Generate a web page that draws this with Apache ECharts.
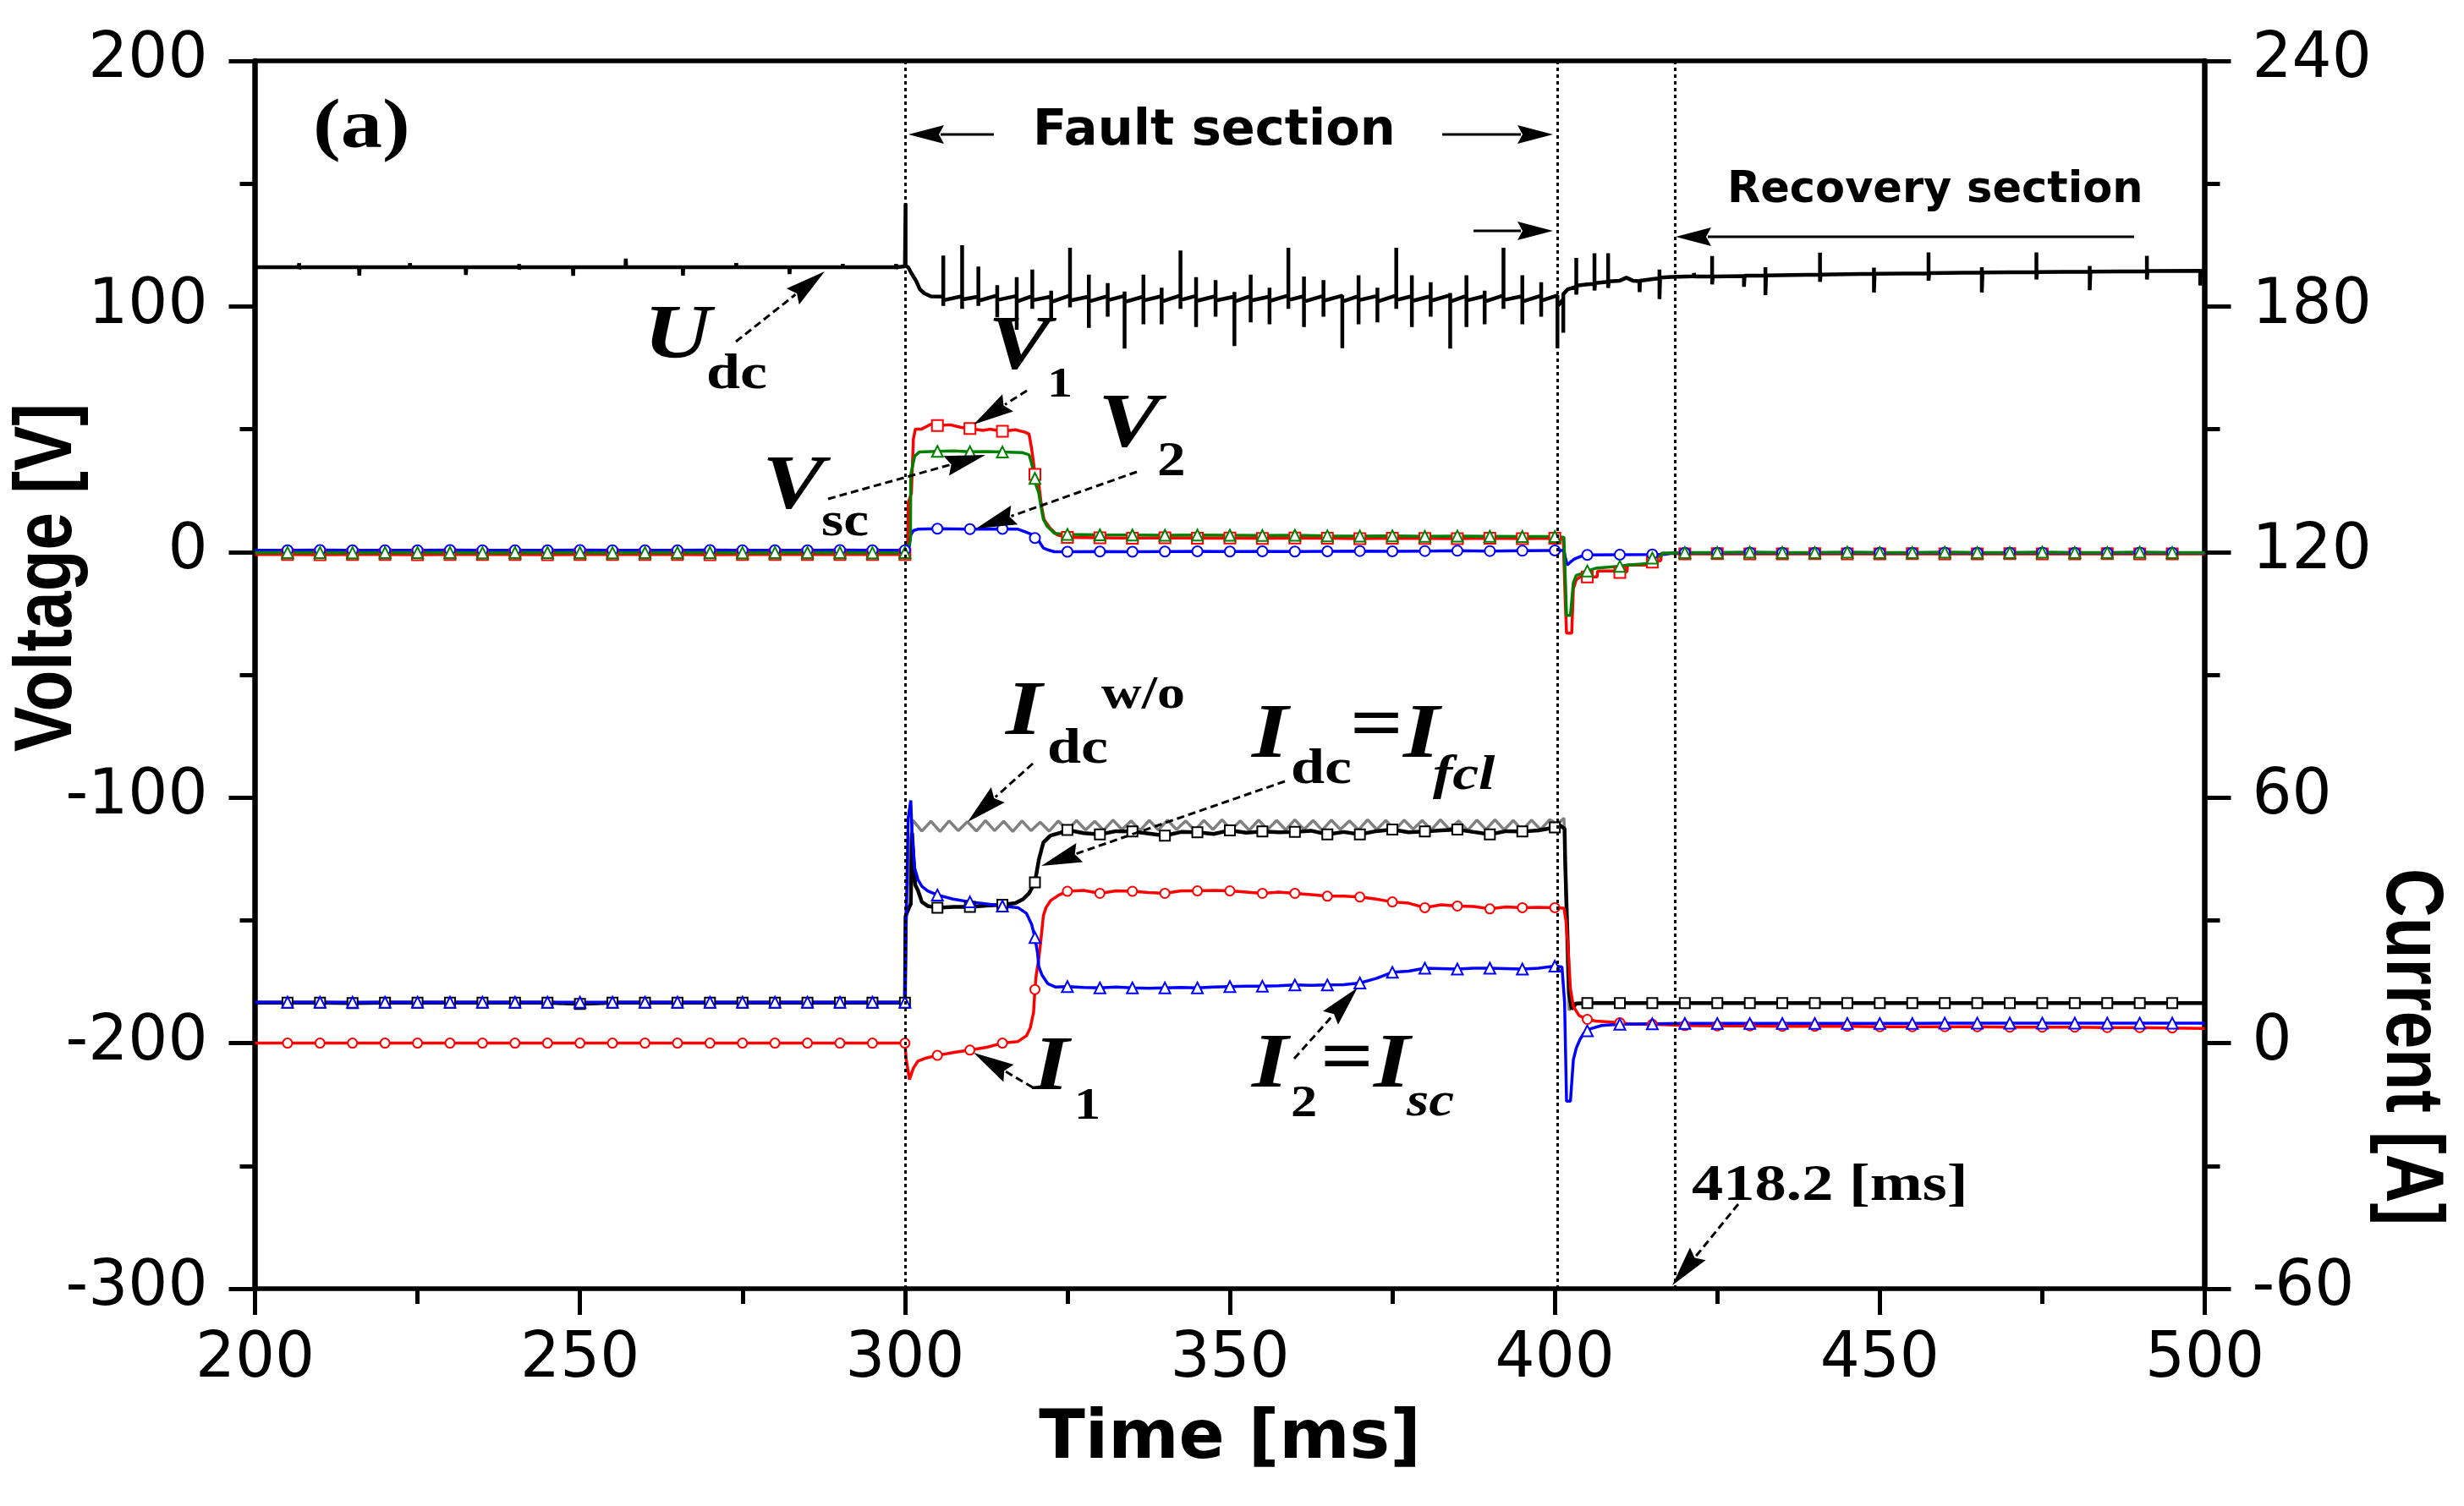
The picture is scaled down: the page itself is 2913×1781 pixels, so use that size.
<!DOCTYPE html>
<html><head><meta charset="utf-8">
<script src="https://cdn.jsdelivr.net/npm/echarts@6/dist/echarts.min.js"></script>
<style>html,body{margin:0;padding:0;background:#fff}#c{width:2913px;height:1781px}</style>
</head><body><div id="c"></div>
<script>
// ---------------- DATA ----------------
const timeRange = [200, 500];
const voltageRange = [-300, 200];
const currentRange = [-60, 240];
const xTickStep = 50, vTickStep = 100, iTickStep = 60;
const sectionLines = [300, 400.4, 418.5];

// DC link voltage U_dc [V]
const udc = [
[200,116],[206.7,116],[206.8,117.6],[206.8,115.2],[206.9,116],[216,116],[216.05,112.6],[216.1,116],[223.8,116],[223.85,117.6],[223.9,116],
[232.4,116],[232.45,112.8],[232.5,116],[240.6,116],[240.65,117.3],[240.65,115],[240.7,116],[248.9,116],[248.95,112.5],[249,116],
[257,116],[257.05,119.5],[257.1,116],[265.8,116],[265.85,112.6],[265.9,116],[274,116],[274.05,117.6],[274.1,116],[282.2,116],[282.25,113.2],[282.3,116],
[290.4,116],[290.45,117.3],[290.5,116],[298.6,116],[298.65,117.3],[298.65,115.2],[298.7,116],
[300,116.3],[300.1,142],[300.1,116.5],[300.5,116],[301,113.5],[301.7,110.5],[302.3,107],[303,105.3],[304,104.1],
[305.9,104],[305.9,120.7],[305.9,100.2],[305.9,102.5],
[308.8,104.2],[308.8,124.9],[308.8,99],[308.8,102.8],
[311.3,104],[311.3,116.2],[311.3,100.2],[311.3,102.3],
[314.2,104.5],[314.2,108.7],[314.2,95.6],[314.2,102.6],
[317.2,104.3],[317.2,111.9],[317.2,90.5],[317.2,102],
[319.6,104.2],[319.6,115],[319.6,99],[319.6,102.5],
[322.5,104],[322.5,106.4],[322.5,94.7],[322.5,101.8],
[325.4,104.5],[325.4,123.9],[325.4,99.6],[325.4,102.4],
[328.3,104],[328.3,113],[328.3,91.3],[328.3,102],
[331.2,104.2],[331.2,109.5],[331.2,95.8],[331.2,102.5],
[333.8,104.3],[333.8,106.1],[333.8,82.8],[333.8,101.8],
[336.7,104],[336.7,113],[336.7,92.7],[336.7,102.4],
[339.5,104.2],[339.5,107.6],[339.5,92.7],[339.5,102],
[342.4,104.5],[342.4,122.8],[342.4,99],[342.4,102.6],
[344.8,104.3],[344.8,111.9],[344.8,91.6],[344.8,102.2],
[347.8,104.2],[347.8,110.7],[347.8,95.8],[347.8,102.4],
[350.7,104],[350.7,105.9],[350.7,83.9],[350.7,102],
[353.2,104.2],[353.2,113],[353.2,93.5],[353.2,102.4],
[356.1,104],[356.1,107.6],[356.1,92.7],[356.1,102.2],
[359,104.5],[359,123.9],[359,99],[359,102.6],
[361.4,104.2],[361.4,112.2],[361.4,91.6],[361.4,102],
[364.4,104.3],[364.4,110.7],[364.4,95.8],[364.4,102.3],
[367.3,104.4],[367.3,83],[367.3,102],
[369.8,104.2],[369.8,112.7],[369.8,92.7],[369.8,102.5],
[372.7,104.3],[372.7,107.6],[372.7,93.5],[372.7,102],
[375.6,104.5],[375.6,123.9],[375.6,99],[375.6,102.6],
[378,104.2],[378,112.7],[378,91.6],[378,102.2],
[380.9,104.2],[380.9,109.9],[380.9,95.8],[380.9,102.3],
[383.9,104.6],[383.9,105.5],[383.9,82.8],[383.9,102],
[386.4,104.3],[386.4,112.7],[386.4,91.6],[386.4,102.4],
[389.2,104.2],[389.2,106.4],[389.2,92.7],[389.2,102],
[392.1,104.5],[392.1,123.9],[392.1,99],[392.1,102.6],
[395,104.2],[395,112.7],[395,92.7],[395,102],
[397.9,104.4],[397.9,109.9],[397.9,95.8],[397.9,102.3],
[400.4,104.5],[400.4,83],[400.4,100],
[401.3,103],[401.3,89.3],[401.3,105],
[402,107],[403.3,108],[403.3,119.8],[403.3,104.8],[403.4,108.5],[405,109],
[406.1,109.2],[406.1,121.7],[406.1,106.5],[406.2,109.5],[408.2,110],[408.2,121.7],[408.2,107.5],[408.3,110.2],
[410,110.5],[411,111.7],[412,110.5],[413,110.3],[413.05,105.8],[413.1,110.5],[416.1,111.5],[416.1,115],[416.1,103],[416.2,111.8],
[418,112],[421.4,112.3],[421.4,113.6],[421.5,112.2],[424.2,112.3],[424.2,120.5],[424.2,109],[424.3,112.2],[429.1,112.4],[429.1,108],[429.2,112.5],
[432.4,112.5],[432.4,116],[432.4,104.6],[432.5,112.6],[440.8,113],[440.8,121.9],[440.8,110],[440.9,113],
[449.1,113.3],[449.1,115.8],[449.1,105.7],[449.2,113.3],[457.5,113.5],[457.5,122],[457.5,110.5],[457.6,113.6],
[465.7,113.8],[465.7,116],[465.7,105.7],[465.8,113.8],[474.1,114],[474.1,122],[474.1,111],[474.2,114],
[482.3,114.2],[482.3,116.5],[482.3,106.6],[482.4,114.2],[491.1,114.3],[491.1,120.6],[491.1,111],[491.2,114.4],
[499.3,114.5],[499.3,108.5],[499.4,114.5],[500,114.5]
];

// V1 (red) [V]
const v1 = [
[200,-1],[205,-1],[210,-1.1],[215,-1],[220,-1],[225,-1.1],[230,-1],[235,-1],[240,-1],[245,-1.1],[250,-1],[255,-1],[260,-1],[265,-1],[270,-1.1],[275,-1],[280,-1],[285,-1],[290,-1],[295,-1],
[300,-1],[300.4,0],[300.5,20],[301,24],[301.3,46],[301.6,50],[302.5,50],[304,52],[305,51.5],[307,51.8],[308.5,50.8],[310,50.3],[312,49.5],[313,50],[315,49.2],[317,49.8],[318.5,48.8],
[319.1,48],[319.5,42],[319.9,34],[320,31.6],[320.5,30],[321,19],[321.4,13.3],[322.3,9.8],[323.4,7],[325,6],
[330,5.8],[335,5.6],[340,5.8],[345,5.6],[350,5.7],[355,5.5],[360,5.7],[365,5.6],[370,5.4],[375,5.6],[380,5.5],[385,5.4],[390,5.6],[395,5.4],[400,5.6],
[401.3,5],[401.6,-20],[401.8,-33],[402.6,-33],[402.85,-14.9],[403.3,-11.3],[403.9,-10.1],[405,-10.1],[406.5,-10.1],[406.6,-7.7],[409.4,-7.7],[410,-8.3],[411.1,-8],[411.2,-5.3],[414.3,-5.3],[415,-4.1],[416.3,-3.5],[416.4,-0.5],
[420,-0.8],[425,-0.7],[430,-0.8],[435,-0.8],[440,-0.7],[445,-0.8],[450,-0.8],[455,-0.7],[460,-0.8],[465,-0.8],[470,-0.7],[475,-0.8],[480,-0.8],[485,-0.7],[490,-0.8],[495,-0.8],[500,-0.8]
];

// V2 (blue) [V]
const v2 = [
[200,0.7],[205,0.7],[210,0.8],[215,0.7],[220,0.7],[225,0.7],[230,0.8],[235,0.7],[240,0.7],[245,0.7],[250,0.8],[255,0.7],[260,0.7],[265,0.7],[270,0.8],[275,0.7],[280,0.7],[285,0.7],[290,0.8],[295,0.7],
[300,0.7],[300.6,0.8],[300.9,7],[301.3,8.7],[302,9.3],[305,9.5],[310,9.3],[315,9.4],[317.4,9.3],[318.4,8.3],[319.3,7.4],[320,5.7],[320.6,4.5],[321.3,1.6],[322.2,0.7],[323,0.1],
[325,0.1],[330,0.2],[335,0.1],[340,0.2],[345,0.3],[350,0.2],[355,0.3],[360,0.2],[365,0.3],[370,0.4],[375,0.3],[380,0.4],[385,0.5],[390,0.4],[395,0.5],[400,0.6],
[401.4,0.6],[401.6,-2],[401.9,-5.3],[402.4,-4.1],[403,-2.9],[404.5,-1.2],[405,-1.2],[410,-1.1],[415,-1],[417,-0.9],[418,-0.4],
[420,-0.3],[425,-0.3],[430,-0.2],[435,-0.3],[440,-0.3],[445,-0.2],[450,-0.3],[455,-0.3],[460,-0.2],[465,-0.3],[470,-0.3],[475,-0.2],[480,-0.3],[485,-0.3],[490,-0.2],[495,-0.3],[500,-0.3]
];

// Vsc (green) [V]
const vsc = [
[200,-0.2],[205,-0.2],[210,-0.2],[215,-0.3],[220,-0.2],[225,-0.2],[230,-0.2],[235,-0.3],[240,-0.2],[245,-0.2],[250,-0.2],[255,-0.3],[260,-0.2],[265,-0.2],[270,-0.2],[275,-0.3],[280,-0.2],[285,-0.2],[290,-0.2],[295,-0.3],
[300,-0.2],[300.5,2],[300.85,5],[300.9,31.6],[301.5,39],[302.2,40.7],[305,41],[307.5,41.2],[310,40.8],[312.5,40.9],[315,40.7],[318,40.5],
[319.1,39.6],[319.5,36],[320,30],[320.2,27],[320.6,24],[320.9,19],[321.3,13.3],[321.9,10.4],[323,7.6],[325,7.2],
[330,7],[335,6.9],[340,6.8],[345,6.9],[350,6.8],[355,6.7],[360,6.8],[365,6.6],[370,6.5],[375,6.6],[380,6.4],[385,6.5],[390,6.4],[395,6.3],[400,6.3],
[401.4,6],[401.8,-25.8],[402.4,-25.8],[402.85,-12.5],[403.3,-9.5],[404,-8.9],[405,-7.7],[406.5,-6.5],[409.4,-5.9],[410,-5.8],[411.1,-5.3],[414.3,-4.7],[415,-2.5],[416.3,-1.6],[416.6,-0.5],
[420,-0.2],[425,-0.2],[430,-0.1],[435,-0.2],[440,-0.2],[445,-0.1],[450,-0.2],[455,-0.2],[460,-0.1],[465,-0.2],[470,-0.2],[475,-0.1],[480,-0.2],[485,-0.2],[490,-0.1],[495,-0.2],[500,-0.2]
];

// I_dc without limiter (gray) [A]
const idcWo = [
[300,10],[300.1,31],[300.9,50],[301.2,54.5],[302.6,51.8],[304.0,54.2],[305.4,51.7],[306.8,54.3],[308.2,51.9],[309.6,54.1],[311.0,51.8],[312.4,54.4],[313.8,51.9],[315.2,54.2],[316.6,51.7],
[318.0,54.3],[319.4,51.9],[320.8,54.0],[322.2,51.8],[323.6,54.3],[325.0,52.0],[326.4,54.4],[327.8,52.1],[329.2,54.2],[330.6,52.0],[332.0,54.5],[333.4,52.2],[334.8,54.3],[336.2,52.0],
[337.6,54.4],[339.0,52.1],[340.4,54.5],[341.8,52.2],[343.2,54.3],[344.6,52.0],[346.0,54.4],[347.4,52.2],[348.8,54.6],[350.2,52.1],[351.6,54.3],[353.0,52.0],[354.4,54.5],[355.8,52.2],
[357.2,54.4],[358.6,52.1],[360.0,54.6],[361.4,52.2],[362.8,54.4],[364.2,52.0],[365.6,54.5],[367.0,52.2],[368.4,54.3],[369.8,52.1],[371.2,54.6],[372.6,52.2],[374.0,54.4],[375.4,52.0],
[376.8,54.5],[378.2,52.3],[379.6,54.4],[381.0,52.1],[382.4,54.6],[383.8,52.2],[385.2,54.3],[386.6,52.0],[388.0,54.5],[389.4,52.2],[390.8,54.6],[392.2,52.1],[393.6,54.4],[395.0,52.0],
[396.4,54.5],[397.8,52.2],[399.2,54.6],[400.4,53.5],[401.4,55],[401.6,45],[401.9,20],[402.2,8],[402.8,9.5],[403.3,9.8]
];

// I_dc = I_fcl (black) [A]
const idc = [
[200,9.9],[205,9.9],[210,9.9],[215,9.8],[220,9.9],[225,9.9],[230,9.9],[235,9.9],[240,9.9],[245,9.9],[250,9.6],[255,9.9],[260,9.9],[265,9.9],[270,9.9],[275,9.9],[280,9.9],[285,9.9],[290,9.9],[295,9.9],
[300,9.9],[300.1,31],[300.6,33],[300.9,34],[301.1,51.4],[301.4,42.8],[301.6,38.6],[302,37.3],[302.6,34.5],[303.5,33.5],[305,33.1],[307.5,33.3],[310,33.3],[312.5,33.6],[315,33.8],[317,34.2],
[318.2,35.2],[319.1,36.6],[320,39.3],[320.6,44.8],[321.3,49],[322.4,50.7],[323.9,51.4],[325,52.1],[327.5,51.3],[330,51],[332.5,51.8],[335,51.7],[337.5,51.2],[340,50.7],[342.5,51.6],[345,51.5],
[347.5,51.1],[350,52],[352.5,51.4],[355,51.7],[357.5,51.5],[360,51.6],[362.5,51.9],[365,51],[367.5,51.6],[370,51],[372.5,51.8],[375,52.2],[377.5,51.5],[380,51.7],[382.5,52],[385,52.2],
[387.5,51.6],[390,51],[392.5,51.8],[395,51.7],[397.5,52],[400,52.7],[400.5,53.5],[401.5,52.4],[401.6,43.8],[402,23.5],[402.2,12],[402.6,8.3],[403.3,9.7],[405,9.8],
[410,9.8],[415,9.8],[420,9.8],[425,9.8],[430,9.8],[435,9.8],[440,9.8],[445,9.8],[450,9.8],[455,9.8],[460,9.8],[465,9.8],[470,9.8],[475,9.8],[480,9.8],[485,9.8],[490,9.8],[495,9.8],[500,9.8]
];

// I1 (red) [A]
const i1 = [
[200,0],[205,0],[210,0],[215,0],[220,0],[225,0],[230,0],[235,0],[240,0],[245,0],[250,0],[255,0],[260,0],[265,0],[270,0],[275,0],[280,0],[285,0],[290,0],[295,0],
[300,0],[300.2,-4],[300.7,-8.9],[300.9,-8.5],[301.3,-6.1],[302,-4.4],[303.1,-3.7],[305,-3],[307.4,-2.3],[310,-1.7],[312.6,-1],[315,0],[317.4,0.4],[318.7,1.8],[319.3,3.8],[319.8,7.6],
[320,13.1],[320.2,16.6],[320.6,20.7],[320.9,24.9],[321.3,31.1],[321.7,33.1],[322.4,34.8],[323.7,36.2],[325,37.1],[327.5,37.3],[330,36.6],[332.5,37.2],[335,37.1],[337.5,36.8],[340,36.6],
[342.5,37.2],[345,37.2],[347.5,37.3],[350,37.2],[352.5,36.9],[355,36.6],[357.5,36.9],[360,36.6],[362.5,36.3],[365,35.9],[367.5,35.9],[370,35.7],[372.5,35.2],[375,34.5],[377.5,34.2],
[380,33.1],[382.5,33.8],[385,33.5],[387.5,33.4],[390,32.8],[392.5,33.3],[395,33.1],[397.5,33.2],[400,33.1],
[401.4,33],[401.7,30],[402,24.2],[402.4,13.3],[402.85,9],[403.7,6.8],[404.5,6.1],[405,5.8],[406.3,5.4],[410,5],[412,4.6],[415,4.6],
[420,4.3],[425,4.2],[430,4.2],[435,4.1],[440,4.1],[445,4.1],[450,4.0],[455,4.0],[460,4.0],[465,4.0],[470,3.9],[475,3.9],[480,3.9],[485,3.8],[490,3.8],[495,3.7],[500,3.6]
];

// I2 = Isc (blue) [A]
const i2 = [
[200,10],[205,10],[210,10],[215,10],[220,10],[225,10],[230,10],[235,10],[240,10],[245,10],[250,10],[255,10],[260,10],[265,10],[270,10],[275,10],[280,10],[285,10],[290,10],[295,10],
[300,10],[300.2,30],[300.5,55],[300.9,59.3],[301.1,51],[301.5,42.8],[302,40],[302.6,38.3],[303.5,37.2],[305,36.2],[307.4,35.2],[310,34.5],[312.6,34],[315,33.5],[317.4,33.1],[318.7,31.7],
[319.5,29],[320,25.8],[320.4,22.1],[320.6,18.7],[321.1,16.6],[322,14.5],[323.2,13.7],[325,13.8],[327.5,13.6],[330,13.5],[332.5,13.7],[335,13.5],[337.5,13.4],[340,13.5],[342.5,13.6],
[345,13.5],[347.5,13.7],[350,13.8],[352.5,13.9],[355,13.9],[357.5,14],[360,14.2],[362.5,14.1],[365,14.2],[367.5,14.3],[370,14.7],[372.5,15.8],[375,17.3],[377.5,17.6],[380,18.3],
[382.5,18.2],[385,18.1],[387.5,18.3],[390,18.3],[392.5,18.2],[395,18.1],[397.5,18.3],[400,18.8],
[401.1,18.6],[401.5,10],[401.8,-14.2],[402.4,-14.2],[402.85,-4.1],[403.3,-1.2],[403.9,1.0],[404.5,2.5],[405,3.0],[405.5,3.5],[407.2,4.3],[410,4.6],[415,4.7],
[420,4.8],[425,4.8],[430,4.8],[435,4.8],[440,4.8],[445,4.8],[450,4.8],[455,4.8],[460,4.9],[465,4.9],[470,4.9],[475,4.9],[480,4.9],[485,4.9],[490,4.9],[495,4.9],[500,4.9]
];

// ---------------- CHART ----------------
const chart = echarts.init(document.getElementById('c'), null, {renderer:'canvas'});
const BLACK = '#000';
const isMarker = t => t > 200.01 && t < 499.99 && Math.abs(t - Math.round(t/5)*5) < 1e-6;
const axisLineStyle = w => ({show:true, onZero:false, lineStyle:{color:BLACK, width:w}});
const tickStyle = {show:true, inside:false, length:31, lineStyle:{color:BLACK, width:5}};
const minorTickStyle = {show:true, splitNumber:2, length:18, lineStyle:{color:BLACK, width:5}};
const labelStyle = m => ({margin:m, fontSize:74, fontFamily:'DejaVu Sans', color:BLACK});

function lineSeries(name, data, color, yIdx, symbol, size, lw) {
  return {
    name, type:'line', data, xAxisIndex:0, yAxisIndex:yIdx,
    showSymbol: !!symbol, showAllSymbol:true, symbol: symbol || 'none',
    symbolSize: symbol ? (v => isMarker(v[0]) ? size : 0) : 0,
    lineStyle:{color, width:lw}, itemStyle:{color, borderColor:color, borderWidth:3},
    emphasis:{disabled:true}, silent:true, animation:false, clip:true
  };
}

// annotation helpers (pixel positions)
function T(x, base, text, size, o) {
  o = o || {};
  return {type:'text', x:x, y: base - 0.34*size, scaleX: (o.sx===undefined?1.2:o.sx), z:100,
    style:{text:text, fontSize:size, fontFamily:o.ff||'Liberation Serif', fontWeight:o.fw||'bold',
      fontStyle:o.fs||'italic', fill:BLACK, align:'left', verticalAlign:'middle'}};
}
function arrow(x1,y1,x2,y2,dashed) {
  const L = dashed ? 48 : 42, W = dashed ? 12 : 11, lw = 3;
  const dx = x2-x1, dy = y2-y1, len = Math.hypot(dx,dy), ux = dx/len, uy = dy/len, nx = -uy, ny = ux;
  const bx = x2 - ux*L, by = y2 - uy*L;
  return [
    {type:'line', z:100, shape:{x1:x1,y1:y1,x2:bx+ux*4,y2:by+uy*4}, style:{stroke:BLACK, lineWidth:lw, lineDash: dashed?[9,5]:null}},
    {type:'polygon', z:100, shape:{points:[[x2,y2],[bx+nx*W,by+ny*W],[bx+ux*6,by+uy*6],[bx-nx*W,by-ny*W]]}, style:{fill:BLACK}}
  ];
}
const sans = {ff:'DejaVu Sans', fs:'normal', sx:1};
const up = {fs:'normal'};
const graphics = [].concat(
  [T(370,181,'(a)',82,up),
   T(1221,176,'Fault section',59,sans),
   T(2042,243,'Recovery section',51,sans),
   T(761,431,'U',92), T(835,464,'dc',60,up),
   T(1168,444,'V',92), T(1238,473,'1',50,up),
   T(1298,536,'V',92), T(1368,567,'2',56,up),
   T(901,609,'V',92), T(971,638,'sc',56,up),
   T(1189,876,'I',92), T(1238,907,'dc',60,up), T(1302,841,'w/o',55,up),
   T(1480,903,'I',92), T(1526,931,'dc',60,up), T(1596,893,'=',92,up), T(1659,903,'I',92), T(1694,938,'fcl',58),
   T(1221,1296,'I',92), T(1270,1327,'1',52,up),
   T(1480,1293,'I',92), T(1526,1324,'2',52,up), T(1561,1287,'=',92,up), T(1624,1293,'I',92), T(1663,1324,'sc',56),
   T(2000,1424,'418.2 [ms]',62,up),
   {type:'text', x:58, y:683, rotation:Math.PI/2, scaleY:1.2, z:100,
    style:{text:'Voltage [V]', fontSize:80, fontWeight:'bold', fontFamily:'Liberation Sans', fill:BLACK, align:'center', verticalAlign:'middle'}},
   {type:'text', x:2848, y:1238, rotation:-Math.PI/2, scaleY:1.2, z:100,
    style:{text:'Current [A]', fontSize:80, fontWeight:'bold', fontFamily:'Liberation Sans', fill:BLACK, align:'center', verticalAlign:'middle'}}
  ],
  arrow(1175,159,1074,159,false), arrow(1705,159,1836,159,false),
  arrow(1742,273,1836,273,false), arrow(2523,280,1981,280,false),
  arrow(870,404,975,321,true), arrow(1214,462,1151,502,true), arrow(1344,558,1154,625,true),
  arrow(979,590,1165,538,true), arrow(1221,903,1144,972,true), arrow(1519,924,1231,1024,true),
  arrow(1221,1286,1151,1245,true), arrow(1530,1252,1605,1168,true), arrow(2055,1424,1977,1520,true)
);

const udcSeries = lineSeries('Udc', udc, BLACK, 0, null, 0, 4.5);
udcSeries.markLine = {symbol:['none','none'], silent:true, animation:false, label:{show:false},
  lineStyle:{color:BLACK, width:3, type:[4,4]}, emphasis:{disabled:true},
  data: sectionLines.map(t => ({xAxis:t}))};

chart.setOption({
  backgroundColor:'#fff',
  animation:false,
  grid:{left:301.5, right:306.5, top:72, bottom:257, containLabel:false},
  xAxis:[
    {type:'value', min:timeRange[0], max:timeRange[1], interval:xTickStep, position:'bottom',
     axisLine:axisLineStyle(5.5), axisTick:tickStyle, minorTick:minorTickStyle, axisLabel:labelStyle(48),
     splitLine:{show:false}, minorSplitLine:{show:false},
     name:'Time [ms]', nameLocation:'middle', nameGap:139,
     nameTextStyle:{fontSize:80, fontWeight:'bold', fontFamily:'DejaVu Sans', color:BLACK}},
    {type:'value', min:timeRange[0], max:timeRange[1], interval:xTickStep, position:'top',
     axisLine:axisLineStyle(5.5), axisTick:{show:false}, axisLabel:{show:false}, splitLine:{show:false}}
  ],
  yAxis:[
    {type:'value', min:voltageRange[0], max:voltageRange[1], interval:vTickStep, position:'left',
     axisLine:axisLineStyle(6.5), axisTick:tickStyle, minorTick:minorTickStyle, axisLabel:labelStyle(56),
     splitLine:{show:false}},
    {type:'value', min:currentRange[0], max:currentRange[1], interval:iTickStep, position:'right',
     axisLine:axisLineStyle(6.5), axisTick:tickStyle, minorTick:minorTickStyle, axisLabel:labelStyle(56),
     splitLine:{show:false}}
  ],
  series:[
    udcSeries,
    lineSeries('V1', v1, '#ff0000', 0, 'emptyRect', 13, 3.5),
    lineSeries('V2', v2, '#0000ff', 0, 'emptyCircle', 12, 3.5),
    lineSeries('Vsc', vsc, '#008000', 0, 'emptyTriangle', 13, 3.5),
    lineSeries('Idc w/o', idcWo, '#808080', 1, null, 0, 3.5),
    lineSeries('Idc', idc, BLACK, 1, 'emptyRect', 12, 4.5),
    lineSeries('I1', i1, '#ff0000', 1, 'emptyCircle', 11, 3.5),
    lineSeries('I2', i2, '#0000ff', 1, 'emptyTriangle', 13, 3.5)
  ],
  graphic: graphics
});
</script>
</body></html>
